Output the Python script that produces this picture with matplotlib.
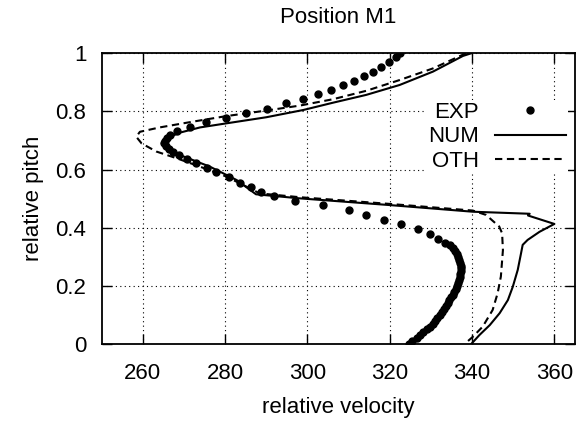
import matplotlib
matplotlib.use("Agg")
import matplotlib.pyplot as plt
from matplotlib.ticker import FuncFormatter

plt.rcParams["font.family"] = ["Liberation Sans", "DejaVu Sans"]

# experimental points (relative velocity, relative pitch)
exp_x = [322.4, 321.5, 319.7, 317.8, 315.9, 313.7, 311.2, 308.6, 305.7, 302.5,
         298.9, 294.8, 290.2, 285.0, 280.1, 275.3, 271.4, 268.2, 266.5, 265.8,
         265.4, 265.2, 265.6, 266.4, 267.4, 268.8, 270.7, 273.0, 275.5, 277.9,
         280.9, 283.6, 286.2, 288.8, 291.9, 296.9, 303.8, 310.0, 314.2, 318.5,
         322.8, 326.8, 329.7, 331.7, 333.5, 334.6, 335.4, 335.9, 336.3, 336.6,
         336.9, 337.1, 337.2, 337.2, 337.2, 337.1, 337.0, 336.8, 336.6, 336.3,
         336.0, 335.7, 335.3, 334.9, 334.5, 334.1, 333.6, 333.1, 332.6, 332.1,
         331.6, 331.0, 330.4, 329.7, 329.0, 328.2, 327.4, 326.5, 325.5, 324.6]
exp_y = [1.000, 0.988, 0.969, 0.952, 0.935, 0.921, 0.906, 0.891, 0.874, 0.859,
         0.842, 0.828, 0.808, 0.794, 0.778, 0.765, 0.746, 0.732, 0.720, 0.710,
         0.700, 0.690, 0.680, 0.670, 0.660, 0.650, 0.636, 0.622, 0.604, 0.591,
         0.573, 0.555, 0.540, 0.523, 0.509, 0.493, 0.477, 0.460, 0.444, 0.427,
         0.412, 0.396, 0.379, 0.362, 0.346, 0.340, 0.330, 0.320, 0.310, 0.300,
         0.290, 0.280, 0.270, 0.260, 0.250, 0.240, 0.230, 0.220, 0.210, 0.200,
         0.190, 0.180, 0.170, 0.160, 0.150, 0.140, 0.130, 0.120, 0.110, 0.100,
         0.090, 0.080, 0.070, 0.060, 0.050, 0.040, 0.030, 0.020, 0.010, 0.000]

# numerical result
num_x = [339.8, 337.8, 330.5, 322.4, 314.3, 306.2, 299.0, 290.0, 280.3, 273.9,
         269.0, 265.8, 264.6, 265.8, 269.0, 276.3, 282.8, 287.5, 298.1, 319.9,
         340.2, 354.0, 353.6, 360.0, 356.4, 353.5, 352.3, 351.9, 351.1, 349.9,
         348.7, 346.7, 344.3, 341.8, 339.8]
num_y = [1.000, 0.991, 0.937, 0.891, 0.857, 0.830, 0.805, 0.780, 0.759, 0.745,
         0.727, 0.708, 0.690, 0.673, 0.650, 0.610, 0.564, 0.515, 0.501, 0.478,
         0.455, 0.448, 0.442, 0.413, 0.386, 0.358, 0.341, 0.312, 0.255, 0.197,
         0.151, 0.106, 0.065, 0.031, 0.000]

# other model
oth_x = [338.5, 330.5, 322.4, 314.3, 306.2, 298.1, 290.0, 280.3, 272.2, 264.1,
         259.3, 258.4, 259.7, 263.3, 268.2, 273.9, 280.3, 285.2, 288.4, 298.1,
         319.9, 340.2, 343.4, 346.6, 347.3, 347.5, 347.0, 346.2, 345.0, 342.6,
         340.2, 338.2]
oth_y = [1.000, 0.948, 0.908, 0.871, 0.842, 0.820, 0.803, 0.784, 0.765, 0.745,
         0.730, 0.713, 0.690, 0.662, 0.639, 0.610, 0.576, 0.541, 0.518, 0.505,
         0.482, 0.459, 0.444, 0.404, 0.381, 0.323, 0.232, 0.174, 0.117, 0.060,
         0.025, 0.000]

x_ticks = [260, 280, 300, 320, 340, 360]
y_ticks = [0, 0.2, 0.4, 0.6, 0.8, 1.0]

fs = 16

fig = plt.figure(figsize=(5.79, 4.25), dpi=100)
ax = fig.add_axes([0.1756, 0.1906, 0.8174, 0.684])

ax.plot(exp_x, exp_y, "o", color="black", markersize=5, label="EXP", zorder=3)
ax.plot(num_x, num_y, "-", color="black", linewidth=1.5, label="NUM", zorder=3)
ax.plot(oth_x, oth_y, color="black", linewidth=1.5, linestyle=(0, (3.5, 2.2)),
        label="OTH", zorder=3)

ax.set_xlim(250, 365)
ax.set_ylim(0, 1)
ax.set_xticks(x_ticks)
ax.set_yticks(y_ticks)
ax.yaxis.set_major_formatter(FuncFormatter(lambda v, p: f"{v:g}"))

ax.grid(True, color="black", linestyle=(0, (1, 3)), linewidth=0.8)
ax.set_axisbelow(True)
ax.tick_params(direction="in", length=7, width=1, top=True, right=True,
               labelsize=fs)
ax.tick_params(axis="x", pad=14)
ax.tick_params(axis="y", pad=11)
for s in ax.spines.values():
    s.set_linewidth(1.3)

ax.set_xlabel("relative velocity", fontsize=fs, labelpad=9)
ax.set_ylabel("relative pitch", fontsize=fs, labelpad=8)
ax.set_title("Position M1", fontsize=fs, pad=22)

leg = ax.legend(loc="upper right", bbox_to_anchor=(0.985, 0.84), markerfirst=False,
                fontsize=fs, frameon=True, fancybox=False, framealpha=1,
                facecolor="white", edgecolor="none", borderpad=0.1,
                borderaxespad=0, handlelength=3.2, handletextpad=0.7,
                labelspacing=0.15)
for t in leg.get_texts():
    t.set_ha("right")
leg.set_zorder(2)

fig.savefig("out.png", dpi=100)
